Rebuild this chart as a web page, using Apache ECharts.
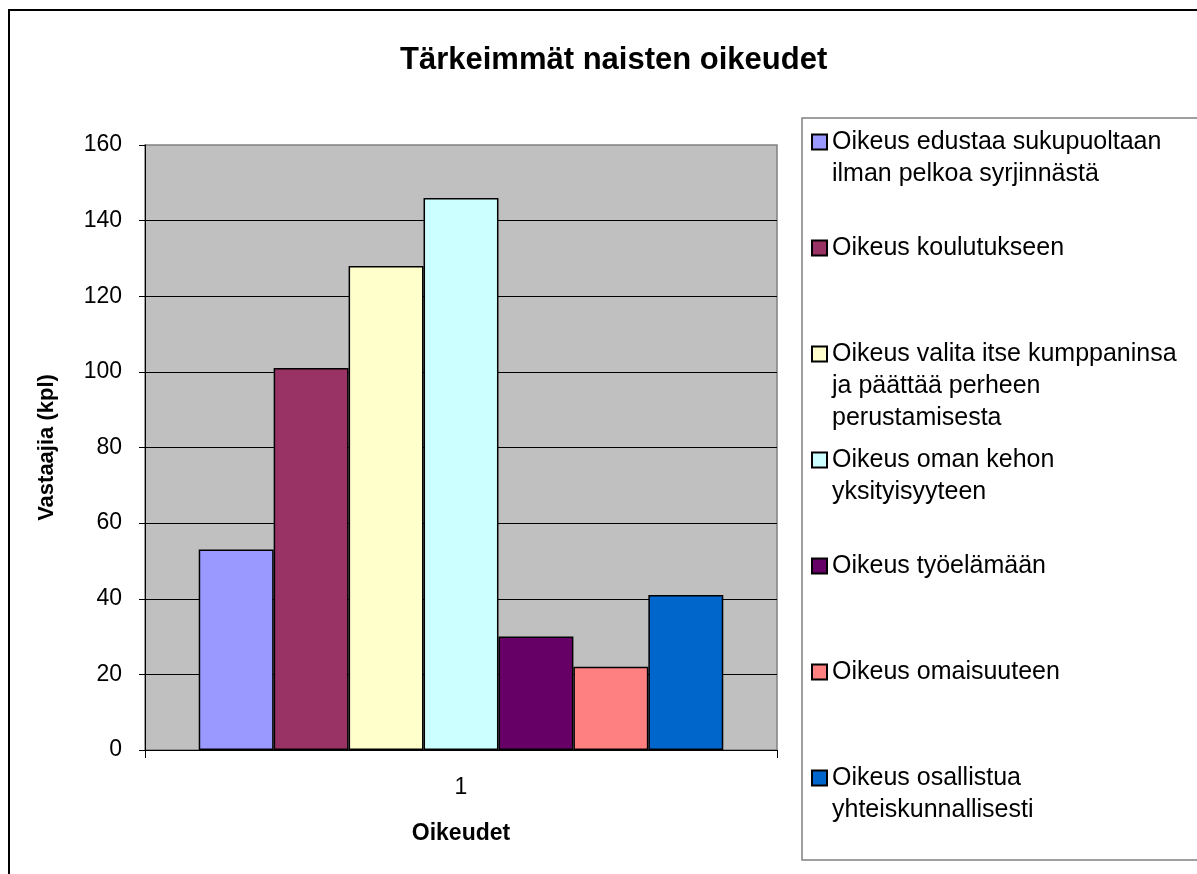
<!DOCTYPE html>
<html>
<head>
<meta charset="utf-8">
<script src="https://cdn.jsdelivr.net/npm/echarts@6/dist/echarts.min.js"></script>
<style>
  html, body { margin: 0; padding: 0; background: #fff; }
  #main { width: 1197px; height: 874px; }
</style>
</head>
<body>
<div id="main"></div>
<script>
// data
var categories = ['1'];
var seriesNames = [
    'Oikeus edustaa sukupuoltaan\nilman pelkoa syrjinnästä',
    'Oikeus koulutukseen',
    'Oikeus valita itse kumppaninsa\nja päättää perheen\nperustamisesta',
    'Oikeus oman kehon\nyksityisyyteen',
    'Oikeus työelämään',
    'Oikeus omaisuuteen',
    'Oikeus osallistua\nyhteiskunnallisesti'
];
var values = [53, 101, 128, 146, 30, 22, 41];
var colors = ['#9999FF', '#993366', '#FFFFCC', '#CCFFFF', '#660066', '#FF8080', '#0066CC'];
var yTicks = { min: 0, max: 160, interval: 20 };

var FONT = "'Liberation Sans', Arial, sans-serif";
var LH = 32;          // legend line height
var ITEM = 5 * LH;    // every legend entry is a 5-line box, marker on the middle line
var STEP = 106;       // distance between legend entries

var myChart = echarts.init(document.getElementById('main'));

var series = seriesNames.map(function (name, i) {
    return {
        name: name,
        type: 'bar',
        barGap: '0%',
        barCategoryGap: '17%',
        data: [values[i]],
        itemStyle: {
            color: colors[i],
            borderColor: '#000',
            borderWidth: 1.5
        },
        emphasis: { disabled: true },
        animation: false
    };
});

var option = {
    backgroundColor: '#fff',
    title: {
        text: 'Tärkeimmät naisten oikeudet',
        left: 395,
        top: 40,
        textStyle: {
            fontFamily: FONT,
            fontSize: 31,
            fontWeight: 'bold',
            color: '#000'
        }
    },
    graphic: [
        {   // outer chart frame
            type: 'rect',
            z: -10,
            shape: { x: 9, y: 10, width: 1220, height: 900 },
            style: { fill: null, stroke: '#000', lineWidth: 2 }
        },
        {   // legend box
            type: 'rect',
            z: -5,
            shape: { x: 802, y: 118, width: 420, height: 742 },
            style: { fill: '#fff', stroke: '#808080', lineWidth: 1.5 }
        }
    ],
    legend: {
        orient: 'vertical',
        left: 811,
        top: 142 - ITEM / 2,
        padding: 0,
        itemGap: STEP - ITEM,
        itemWidth: 15,
        itemHeight: 15,
        icon: 'rect',
        selectedMode: false,
        data: seriesNames,
        // two blank lines above so the first line sits beside the marker
        formatter: function (name) {
            var n = name.split('\n').length;
            var tail = '';
            for (var i = n; i < 3; i++) tail += '\n ';
            return ' \n \n' + name + tail;
        },
        textStyle: {
            fontFamily: FONT,
            fontSize: 25,
            lineHeight: LH,
            color: '#000'
        }
    },
    grid: {
        left: 145,
        top: 145,
        right: 420,
        bottom: 124,
        show: true,
        backgroundColor: '#C0C0C0',
        borderColor: '#808080',
        borderWidth: 1.5
    },
    xAxis: {
        type: 'category',
        data: categories,
        name: 'Oikeudet',
        nameLocation: 'middle',
        nameGap: 72,
        nameTextStyle: {
            fontFamily: FONT,
            fontSize: 23,
            fontWeight: 'bold',
            color: '#000'
        },
        axisLine: { lineStyle: { color: '#000', width: 1 } },
        axisTick: { show: true, length: 8, lineStyle: { color: '#000' } },
        axisLabel: {
            fontFamily: FONT,
            fontSize: 23,
            color: '#000',
            margin: 26
        }
    },
    yAxis: {
        type: 'value',
        min: yTicks.min,
        max: yTicks.max,
        interval: yTicks.interval,
        name: 'Vastaajia (kpl)',
        nameLocation: 'middle',
        nameGap: 87,
        nameTextStyle: {
            fontFamily: FONT,
            fontSize: 22,
            fontWeight: 'bold',
            color: '#000'
        },
        axisLine: { show: true, lineStyle: { color: '#000', width: 1 } },
        axisTick: { show: true, length: 6, lineStyle: { color: '#000' } },
        axisLabel: {
            fontFamily: FONT,
            fontSize: 23,
            color: '#000',
            margin: 23
        },
        splitLine: {
            show: true,
            showMaxLine: false,
            lineStyle: { color: '#000', width: 1 }
        }
    },
    series: series
};

myChart.setOption(option);
</script>
</body>
</html>
